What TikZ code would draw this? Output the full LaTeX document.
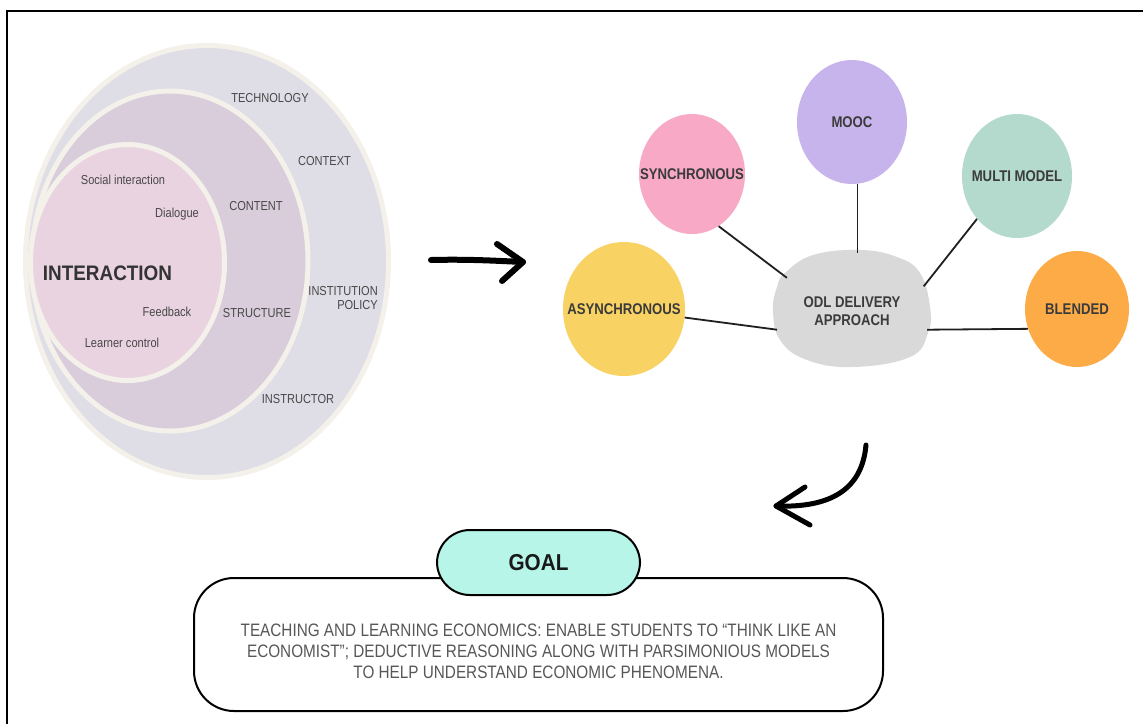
\documentclass[tikz,border=0pt]{standalone}
\usepackage{fontspec}
\setmainfont{Liberation Sans}
\newfontfamily\ringfont[FakeStretch=0.85]{Liberation Sans}
\newfontfamily\labelfont[FakeStretch=0.85]{Liberation Sans}
\newfontfamily\headfont[FakeStretch=0.9]{Liberation Sans}
\usetikzlibrary{shapes.geometric}

\definecolor{outerring}{HTML}{DFDDE6}
\definecolor{middlering}{HTML}{D9CDDC}
\definecolor{innerring}{HTML}{E9D3E0}
\definecolor{ringedge}{HTML}{F4F1EA}
\definecolor{ringink}{HTML}{484848}
\definecolor{labelink}{HTML}{3B3B3B}
\definecolor{moocfill}{HTML}{C7B4EC}
\definecolor{syncfill}{HTML}{F7A9C5}
\definecolor{multifill}{HTML}{B3DACC}
\definecolor{asyncfill}{HTML}{F9D264}
\definecolor{blendfill}{HTML}{FDAB47}
\definecolor{blobfill}{HTML}{D9D9D9}
\definecolor{goalfill}{HTML}{B7F5E8}
\definecolor{bodyink}{HTML}{575757}

% bubble text that does not widen its ellipse
\newcommand{\bubbletext}[1]{\makebox[0pt]{#1}}

\begin{document}
\begin{tikzpicture}[x=1pt,y=-1pt,
  ring/.style={draw=ringedge, line width=5pt},
  ringtext/.style={font=\ringfont\fontsize{13}{14}\selectfont, text=ringink, inner sep=0pt},
  bubble/.style={ellipse, inner sep=0pt, text=labelink,
    font=\labelfont\bfseries\fontsize{15.5}{18.5}\selectfont},
  spoke/.style={line width=1.8pt, black!88},
  sketch/.style={line width=6pt, line cap=round, line join=round},
]
\useasboundingbox (0,0) rectangle (1143,724);
\fill[white] (0,0) rectangle (1143,724);

% frame
\draw[line width=2pt] (7,724) -- (7,11) -- (1143,11);

% nested interaction model
\fill[outerring] (207,261.5) ellipse [x radius=181.5pt, y radius=216pt];
\draw[ring] (207,261.5) ellipse [x radius=181.5pt, y radius=216pt];
\fill[middlering] (170,261) ellipse [x radius=138pt, y radius=170pt];
\draw[ring] (170,261) ellipse [x radius=138pt, y radius=170pt];
\fill[innerring] (127.5,262.5) ellipse [x radius=97pt, y radius=118pt];
\draw[ring] (127.5,262.5) ellipse [x radius=97pt, y radius=118pt];

\node[ringtext] (tech) at (270,98) {TECHNOLOGY};
\node[ringtext] (ctx) at (324.5,161) {CONTEXT};
\node[ringtext] (social) at (123,180) {Social interaction};
\node[ringtext] (content) at (256,206) {CONTENT};
\node[ringtext] (dialogue) at (177,214) {Dialogue};
\node[ringtext, font=\headfont\bfseries\fontsize{21}{24}\selectfont, text=black!80] (inter) at (107.5,273) {INTERACTION};
\node[ringtext, align=right, anchor=east] (policy) at (378,298) {INSTITUTION\\POLICY};
\node[ringtext] (feedback) at (167,312) {Feedback};
\node[ringtext] (structure) at (257,313) {STRUCTURE};
\node[ringtext] (learner) at (122,343) {Learner control};
\node[ringtext] (instructor) at (298,399) {INSTRUCTOR};

% arrow towards the delivery approaches
\coordinate (rtail) at (431,260);
\coordinate (rhead) at (523,262);
\draw[sketch] (rtail) .. controls (470,259) and (500,261) .. (rhead);
\draw[sketch] (497,244) -- (rhead) -- (502,281);

% delivery approach hub
\fill[blobfill] plot[smooth cycle, tension=0.7] coordinates {
  (785,273) (813,255) (860,250) (897,257) (920,273) (930,307) (928,333)
  (910,357) (853,367) (807,360) (780,340) (773,310) (777,287)};
\node[bubble, align=center, minimum width=158pt, minimum height=116pt] (odl) at (852,311) {ODL DELIVERY\\APPROACH};

\node[bubble, fill=moocfill, minimum width=110pt, minimum height=124pt] (mooc) at (852,122) {\bubbletext{MOOC}};
\node[bubble, fill=syncfill, minimum width=106pt, minimum height=120pt] (sync) at (692,174) {\bubbletext{SYNCHRONOUS}};
\node[bubble, fill=multifill, minimum width=110pt, minimum height=124pt] (multi) at (1017,176) {\bubbletext{MULTI MODEL}};
\node[bubble, fill=asyncfill, minimum width=122pt, minimum height=134pt] (async) at (624,309) {\bubbletext{ASYNCHRONOUS}};
\node[bubble, fill=blendfill, minimum width=104pt, minimum height=116pt] (blend) at (1077,309) {\bubbletext{BLENDED}};

\draw[spoke] (sync.-63) -- (odl.153);
\draw[spoke] (mooc.-85) -- (mooc.-85 |- odl.north);
\draw[spoke] (multi.-133) -- (odl.19);
\draw[spoke] (async.-8) -- (odl.194);
\draw[spoke] (odl.-14) -- (blend.202);

% curved arrow down to the goal
\coordinate (ctail) at (866,445);
\coordinate (chead) at (776,506);
\draw[sketch, line width=5pt] (ctail) .. controls (862,490) and (830,508) .. (chead);
\draw[sketch, line width=5pt] (805,487) -- (chead) -- (810,525);

% goal
\node[draw=black, line width=2pt, rounded corners=40pt, minimum width=689pt, minimum height=133pt, inner sep=0pt] (goalbox) at (538.5,644.5) {};
\node[draw=black, line width=2pt, fill=goalfill, rounded corners=33pt, minimum width=203pt, minimum height=65pt, inner sep=0pt,
  font=\headfont\bfseries\fontsize{23}{26}\selectfont, text=black!90] (goal) at (538.5,562.5) {GOAL};
\node[align=center, text=bodyink, inner sep=0pt, font=\ringfont\fontsize{18}{21}\selectfont] (goaltext) at (538.5,651)
  {TEACHING AND LEARNING ECONOMICS: ENABLE STUDENTS TO “THINK LIKE AN\\
   ECONOMIST”; DEDUCTIVE REASONING ALONG WITH PARSIMONIOUS MODELS\\
   TO HELP UNDERSTAND ECONOMIC PHENOMENA.};
\end{tikzpicture}
\end{document}
